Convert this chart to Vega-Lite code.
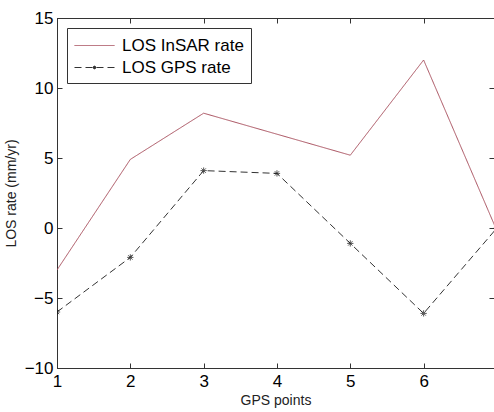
{
  "$schema": "https://vega.github.io/schema/vega-lite/v6.json",
  "autosize": "none",
  "padding": {"left": 57, "top": 18, "right": 0, "bottom": 44},
  "width": 437,
  "height": 350,
  "background": "white",
  "config": {
    "font": "Liberation Sans",
    "view": {"stroke": "#333", "strokeWidth": 1},
    "axis": {"grid": false, "domainColor": "#333", "tickColor": "#333", "labelColor": "#000", "titleColor": "#222", "labelFontSize": 17, "titleFontSize": 14, "titleFontWeight": "normal", "tickSize": -5}
  },
  "data": {"values": [
    {"x": 1, "series": "LOS InSAR rate", "value": -3.0},
    {"x": 2, "series": "LOS InSAR rate", "value": 4.9},
    {"x": 3, "series": "LOS InSAR rate", "value": 8.2},
    {"x": 4, "series": "LOS InSAR rate", "value": 6.7},
    {"x": 5, "series": "LOS InSAR rate", "value": 5.2},
    {"x": 6, "series": "LOS InSAR rate", "value": 12.0},
    {"x": 7, "series": "LOS InSAR rate", "value": -0.2},
    {"x": 1, "series": "LOS GPS rate", "value": -6.0},
    {"x": 2, "series": "LOS GPS rate", "value": -2.1},
    {"x": 3, "series": "LOS GPS rate", "value": 4.1},
    {"x": 4, "series": "LOS GPS rate", "value": 3.9},
    {"x": 5, "series": "LOS GPS rate", "value": -1.1},
    {"x": 6, "series": "LOS GPS rate", "value": -6.1},
    {"x": 7, "series": "LOS GPS rate", "value": 0.0}
  ]},
  "layer": [
    {
      "mark": {"type": "line", "clip": true, "strokeWidth": 1},
      "encoding": {
        "x": {"field": "x", "type": "quantitative", "scale": {"domain": [1, 6.96], "nice": false, "zero": false}, "axis": {"values": [1, 2, 3, 4, 5, 6], "title": "GPS points", "labelPadding": 10, "titlePadding": 4, "labelFlush": false}},
        "y": {"field": "value", "type": "quantitative", "scale": {"domain": [-10, 15], "nice": false}, "axis": {"values": [-10, -5, 0, 5, 10, 15], "title": "LOS rate (mm/yr)", "labelPadding": 9, "titlePadding": 6}},
        "color": {"field": "series", "type": "nominal", "sort": ["LOS InSAR rate", "LOS GPS rate"], "scale": {"domain": ["LOS InSAR rate", "LOS GPS rate"], "range": ["#a9505e", "#333333"]}, "legend": {"title": null, "orient": "top-left", "offset": 10, "strokeColor": "#333", "fillColor": "white", "padding": 7, "labelFontSize": 17, "labelColor": "#000", "symbolSize": 400, "symbolStrokeWidth": 1, "rowPadding": 3, "labelOffset": 27,
          "encode": {"symbols": {"update": {"shape": {"signal": "datum.value == 'LOS GPS rate' ? 'M-1,0L3,0M0.82,0L1.18,0M1,-0.18L1,0.18M0.87,-0.13L1.13,0.13M0.87,0.13L1.13,-0.13' : 'M-1,0L3,0'"}, "fill": {"value": "transparent"}}}}}},
        "strokeDash": {"field": "series", "type": "nominal", "sort": ["LOS InSAR rate", "LOS GPS rate"], "scale": {"domain": ["LOS InSAR rate", "LOS GPS rate"], "range": [[1, 0], [7, 4]]}, "legend": null}
      }
    },
    {
      "transform": [{"filter": "datum.series == 'LOS GPS rate'"}],
      "mark": {"type": "point", "clip": true, "shape": "M-1,0L1,0M0,-1L0,1M-0.7,-0.7L0.7,0.7M-0.7,0.7L0.7,-0.7", "filled": false, "stroke": "#111", "strokeWidth": 1, "size": 40},
      "encoding": {
        "x": {"field": "x", "type": "quantitative", "axis": {"orient": "top", "values": [1, 2, 3, 4, 5, 6], "labels": false, "title": null, "domain": false}},
        "y": {"field": "value", "type": "quantitative", "axis": {"orient": "right", "values": [-10, -5, 0, 5, 10, 15], "labels": false, "title": null, "domain": false}}
      }
    }
  ],
  "resolve": {"axis": {"x": "independent", "y": "independent"}}
}
